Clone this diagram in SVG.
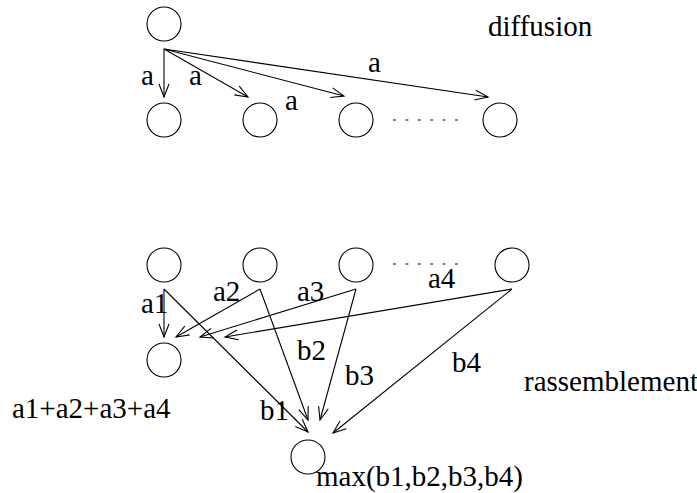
<svg xmlns="http://www.w3.org/2000/svg" width="697" height="493" viewBox="0 0 697 493">
<style>
.n{fill:none;stroke:#000;stroke-width:1.1}
.e{fill:none;stroke:#000;stroke-width:1.1}
.d{fill:none;stroke:#000;stroke-width:1.1;stroke-dasharray:3 9.4}
.t{font-family:'Liberation Serif','Times New Roman','DejaVu Serif',serif;font-size:29px;fill:#000}
</style>
<defs>
<marker id="ah" markerUnits="userSpaceOnUse" markerWidth="14" markerHeight="12" refX="13" refY="5" orient="auto" overflow="visible">
<path d="M0,0 L13,5 L0,10" fill="none" stroke="#000" stroke-width="1.1"/>
</marker>
</defs>
<rect width="697" height="493" fill="#fff"/>
<g id="n_src"><circle class="n" cx="164" cy="24" r="17"/></g>
<g id="n_t1"><circle class="n" cx="164" cy="120" r="17"/></g>
<g id="n_t2"><circle class="n" cx="260" cy="120" r="17"/></g>
<g id="n_t3"><circle class="n" cx="356" cy="120" r="17"/></g>
<g id="n_t4"><circle class="n" cx="500" cy="120" r="17"/></g>
<g id="n_r1"><circle class="n" cx="164" cy="265" r="17"/></g>
<g id="n_r2"><circle class="n" cx="260" cy="265" r="17"/></g>
<g id="n_r3"><circle class="n" cx="356" cy="265" r="17"/></g>
<g id="n_r4"><circle class="n" cx="512" cy="265" r="17"/></g>
<g id="n_sum"><circle class="n" cx="164" cy="360" r="17"/></g>
<g id="n_max"><circle class="n" cx="308" cy="457" r="17"/></g>
<g id="connectors">
<line class="d" x1="393" y1="120" x2="458" y2="120"/>
<line class="d" x1="393" y1="264" x2="458" y2="264"/>
<line class="e" x1="164" y1="49" x2="164" y2="97" marker-end="url(#ah)"/>
<line class="e" x1="164" y1="49" x2="248" y2="97" marker-end="url(#ah)"/>
<line class="e" x1="164" y1="49" x2="344" y2="96" marker-end="url(#ah)"/>
<line class="e" x1="164" y1="49" x2="488" y2="97" marker-end="url(#ah)"/>
<line class="e" x1="164" y1="289" x2="164" y2="337" marker-end="url(#ah)"/>
<line class="e" x1="260" y1="289" x2="176" y2="337" marker-end="url(#ah)"/>
<line class="e" x1="356" y1="289" x2="200" y2="337" marker-end="url(#ah)"/>
<line class="e" x1="512" y1="289" x2="225" y2="337" marker-end="url(#ah)"/>
<line class="e" x1="164" y1="289" x2="308" y2="432" marker-end="url(#ah)"/>
<line class="e" x1="260" y1="289" x2="308" y2="420" marker-end="url(#ah)"/>
<line class="e" x1="356" y1="289" x2="320" y2="420" marker-end="url(#ah)"/>
<line class="e" x1="512" y1="289" x2="333" y2="433" marker-end="url(#ah)"/>
</g>
<g id="labels" class="t">
<text x="488" y="36">diffusion</text>
<text x="141" y="85">a</text>
<text x="189" y="85">a</text>
<text x="285" y="110">a</text>
<text x="368" y="72">a</text>
<text x="141" y="313">a1</text>
<text x="213" y="301">a2</text>
<text x="297" y="301">a3</text>
<text x="428" y="288">a4</text>
<text x="297" y="360">b2</text>
<text x="345" y="385">b3</text>
<text x="452" y="372">b4</text>
<text x="260" y="420">b1</text>
<text x="524" y="391">rassemblement</text>
<text x="12" y="418">a1+a2+a3+a4</text>
<text x="316" y="486">max(b1,b2,b3,b4)</text>
</g>
</svg>
